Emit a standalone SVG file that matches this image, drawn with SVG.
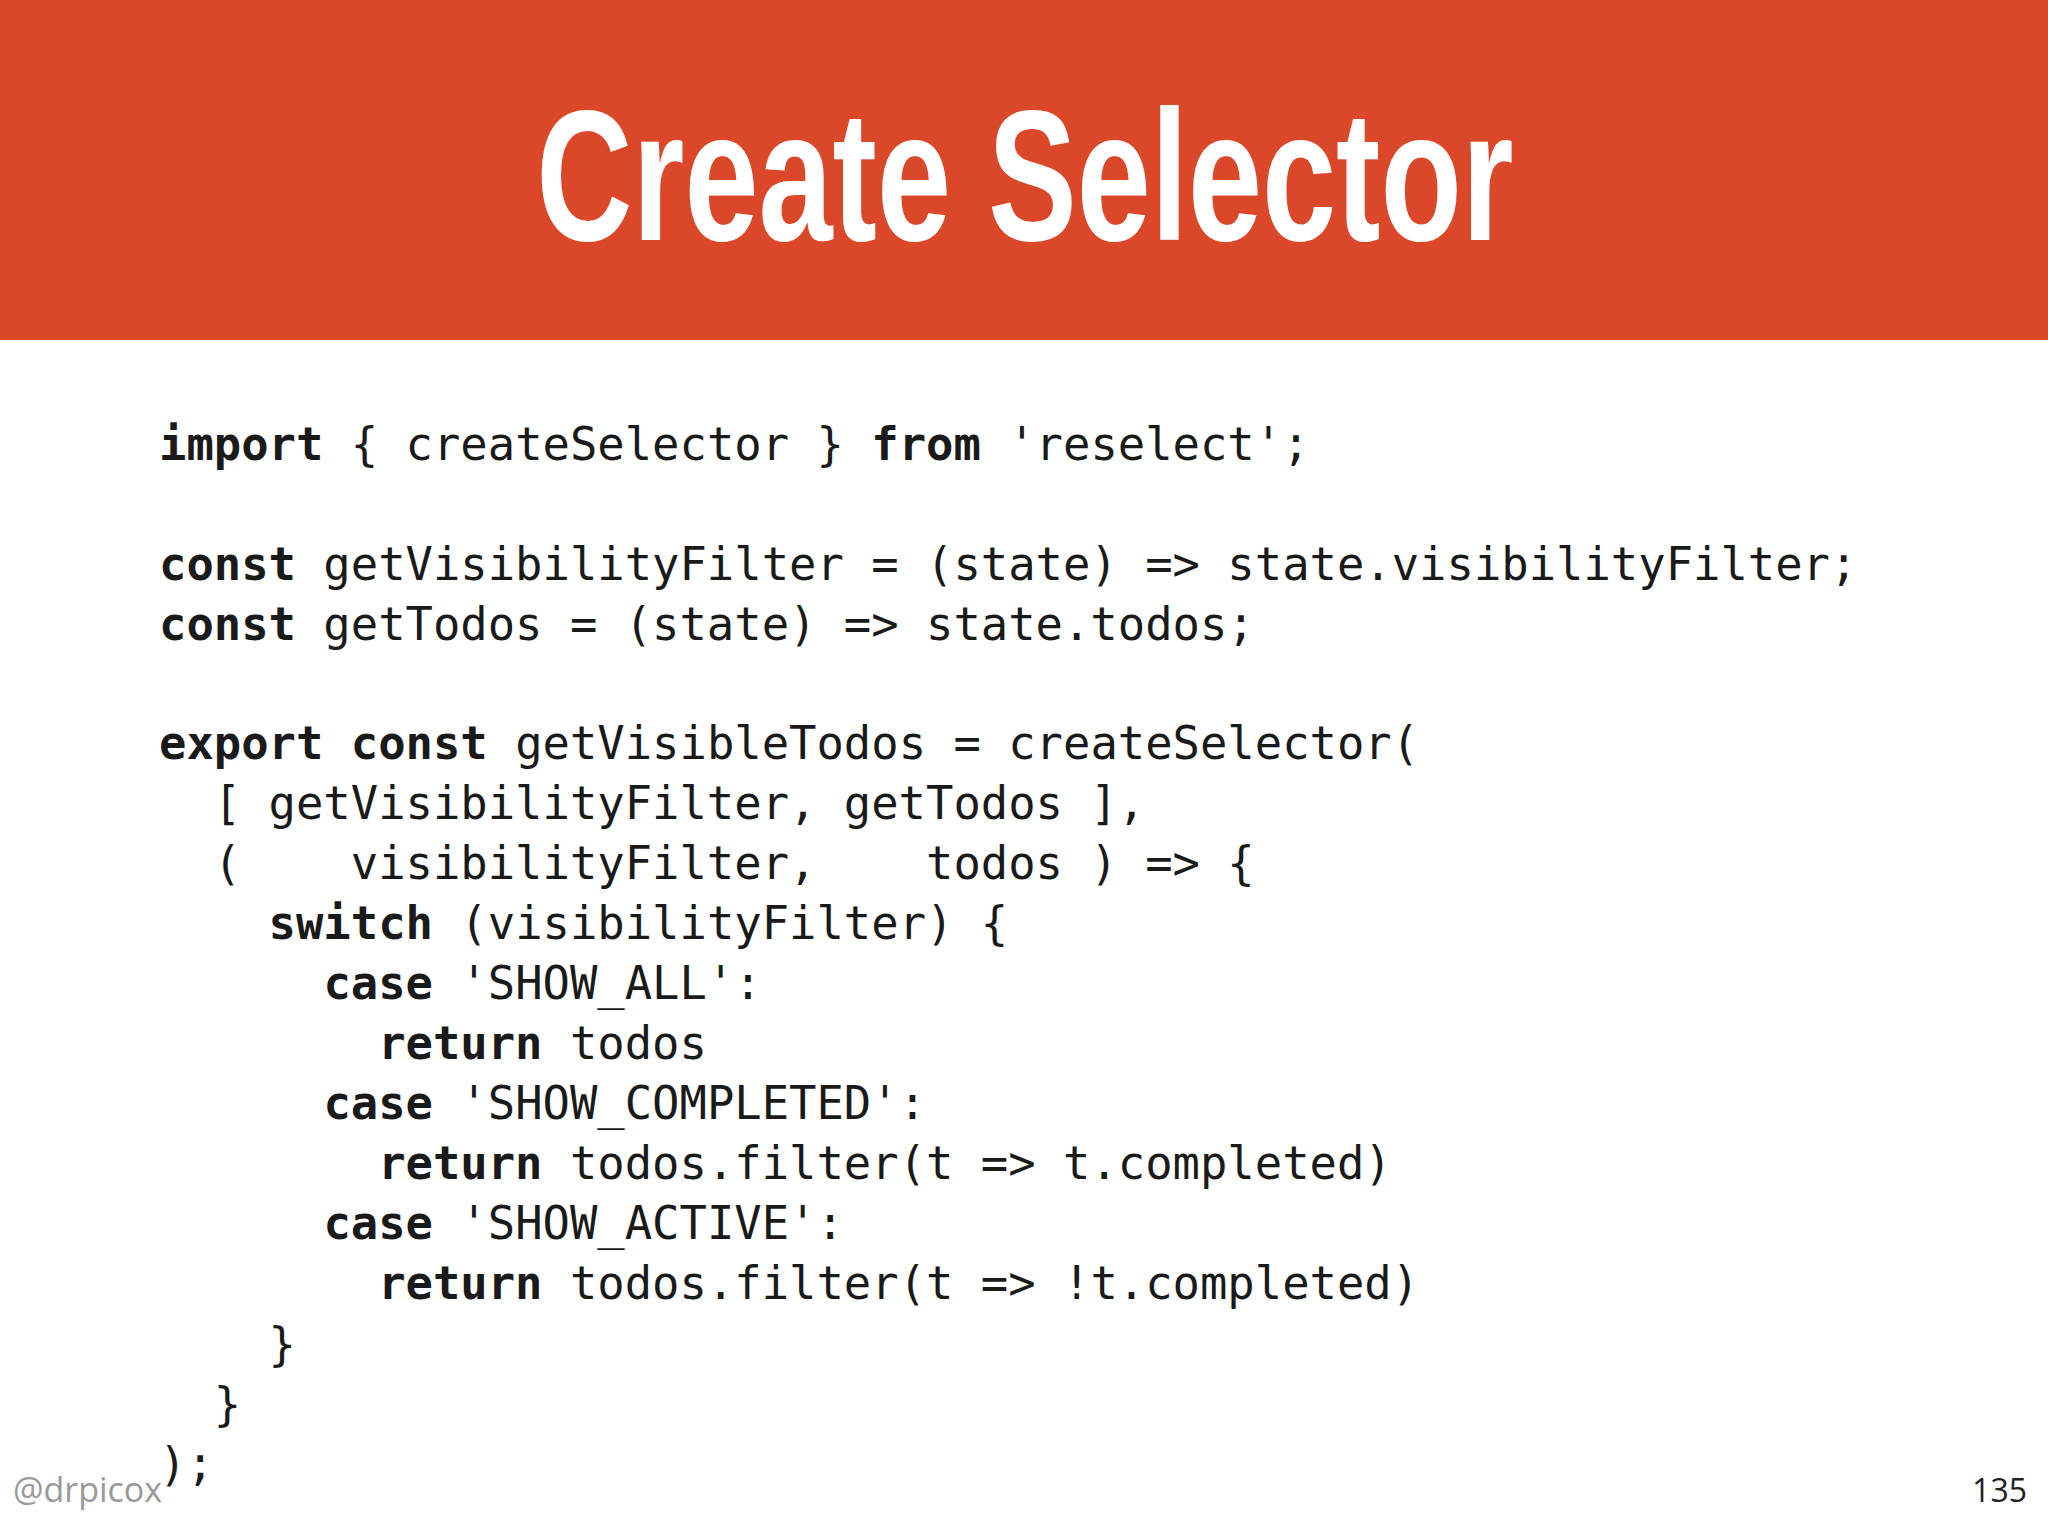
<svg xmlns="http://www.w3.org/2000/svg" width="2048" height="1536" viewBox="0 0 2048 1536">
<style>
.c{font-family:"DejaVu Sans Mono","Liberation Mono",monospace;font-size:45.5px;fill:#1a1a1a;white-space:pre}
.k{font-weight:bold}
.f{font-family:"Open Sans","Noto Sans",sans-serif;font-size:34px;fill:#999}
</style>
<rect width="2048" height="1536" fill="#fff"/>
<g id="header">
<rect x="0" y="0" width="2048" height="340" fill="#DA4729"/>
<text x="1025" y="240" text-anchor="middle" transform="translate(1025 0) scale(0.72 1) translate(-1025 0)" font-family="Liberation Sans,Arial,sans-serif" font-weight="bold" font-size="185" fill="#fff">Create Selector</text>
</g>
<g id="code">
<text class="c" x="159" y="460" xml:space="preserve"><tspan class="k">import</tspan> { createSelector } <tspan class="k">from</tspan> 'reselect';</text>
<text class="c" x="159" y="580" xml:space="preserve"><tspan class="k">const</tspan> getVisibilityFilter = (state) => state.visibilityFilter;</text>
<text class="c" x="159" y="640" xml:space="preserve"><tspan class="k">const</tspan> getTodos = (state) => state.todos;</text>
<text class="c" x="159" y="759" xml:space="preserve"><tspan class="k">export const</tspan> getVisibleTodos = createSelector(</text>
<text class="c" x="159" y="819" xml:space="preserve">  [ getVisibilityFilter, getTodos ],</text>
<text class="c" x="159" y="879" xml:space="preserve">  (    visibilityFilter,    todos ) => {</text>
<text class="c" x="159" y="939" xml:space="preserve">    <tspan class="k">switch</tspan> (visibilityFilter) {</text>
<text class="c" x="159" y="999" xml:space="preserve">      <tspan class="k">case</tspan> 'SHOW_ALL':</text>
<text class="c" x="159" y="1059" xml:space="preserve">        <tspan class="k">return</tspan> todos</text>
<text class="c" x="159" y="1119" xml:space="preserve">      <tspan class="k">case</tspan> 'SHOW_COMPLETED':</text>
<text class="c" x="159" y="1179" xml:space="preserve">        <tspan class="k">return</tspan> todos.filter(t => t.completed)</text>
<text class="c" x="159" y="1239" xml:space="preserve">      <tspan class="k">case</tspan> 'SHOW_ACTIVE':</text>
<text class="c" x="159" y="1299" xml:space="preserve">        <tspan class="k">return</tspan> todos.filter(t => !t.completed)</text>
<text class="c" x="159" y="1360" xml:space="preserve">    }</text>
<text class="c" x="159" y="1420" xml:space="preserve">  }</text>
<text class="c" x="159" y="1480" xml:space="preserve">);</text>
</g>
<g id="footer">
<text class="f" x="13" y="1502">@drpicox</text>
<text x="2027" y="1502" text-anchor="end" font-family="Open Sans,Noto Sans,sans-serif" font-size="32" fill="#222">135</text>
</g>
</svg>
